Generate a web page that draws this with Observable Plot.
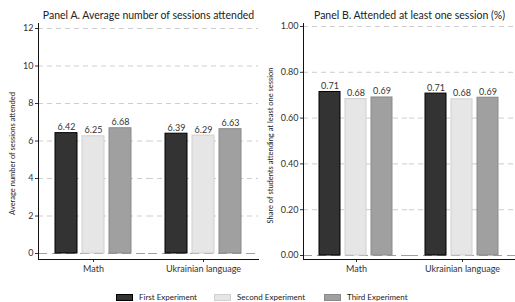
<!DOCTYPE html>
<html><head><meta charset="utf-8">
<script src="https://cdn.jsdelivr.net/npm/d3@7"></script>
<script src="https://cdn.jsdelivr.net/npm/@observablehq/plot@0.6"></script>
<style>
body{margin:0;background:#fff;font-family:Lato,"Noto Sans",sans-serif;}
#wrap{position:relative;width:515px;height:302px;overflow:hidden;}
#a{position:absolute;left:0;top:0;}
#b{position:absolute;left:258px;top:0;}
#legend{position:absolute;top:0;left:0;width:515px;height:302px;font-size:8px;color:#222;}
.item{position:absolute;top:292px;display:flex;align-items:center;}
.sw{width:15px;height:5px;margin-right:6px;border:1px solid;}
</style></head>
<body><div id="wrap"><div id="a"></div><div id="b"></div><div id="legend"></div></div>
<script>
const subjects = ["Math", "Ukrainian language"];
const experiments = ["First Experiment", "Second Experiment", "Third Experiment"];
const sessionsMath = [6.42, 6.25, 6.68];
const sessionsUkr = [6.39, 6.29, 6.63];
const shareMath = [0.714, 0.683, 0.690];
const shareUkr = [0.707, 0.682, 0.689];
const sessionTicks = [0, 2, 4, 6, 8, 10, 12];
const shareTicks = [0, 0.2, 0.4, 0.6, 0.8, 1.0];

const fills = ["#333333", "#e6e6e6", "#a0a0a0"];
const strokes = ["#000000", "#d0d0d0", "#8a8a8a"];
const legendLeft = [116, 214, 324];

function table(a, b) {
  const rows = [];
  [a, b].forEach((vals, si) => vals.forEach((v, ei) => rows.push({subject: subjects[si], exp: experiments[ei], value: v})));
  return rows;
}

function panel({data, ticks, domain, tickFmt, valFmt, title, ylabel, width, marginLeft, labelOffset, labelDy}) {
  const H = 282;
  return Plot.plot({
    width, height: H,
    marginLeft, marginRight: 0, marginTop: 23, marginBottom: 23,
    style: {fontFamily: "Lato, 'Noto Sans', sans-serif", color: "#333", background: "transparent", overflow: "visible"},
    fx: {domain: subjects, paddingInner: 0, paddingOuter: 0, axis: null, label: null},
    x: {domain: experiments, paddingInner: 0.18, paddingOuter: 0.555, axis: null},
    y: {domain, axis: null},
    color: {domain: experiments, range: fills},
    marks: [
      Plot.ruleY(ticks.filter(t => t !== 0), {stroke: "#cdcdcd", strokeWidth: 1, strokeDasharray: "5,4"}),
      Plot.ruleY([0], {stroke: "#a0a0a0", strokeWidth: 1.2, strokeDasharray: "9,5"}),
      Plot.barY(data, {fx: "subject", x: "exp", y: "value", fill: "exp"}),
      ...experiments.map((e, i) => Plot.barY(data.filter(d => d.exp === e), {fx: "subject", x: "exp", y: "value", fill: "none", stroke: strokes[i], strokeWidth: 1})),
      Plot.text(data, {fx: "subject", x: "exp", y: "value", text: d => valFmt(d.value), lineAnchor: "bottom", dy: -3, fontSize: 9, fill: "#333"}),
      Plot.axisY({ticks, tickFormat: tickFmt, tickSize: 3, tickPadding: 2, fontSize: 9, label: null, color: "#333"}),
      Plot.axisFx({anchor: "bottom", tickSize: 3, tickPadding: 3, fontSize: 9, label: null, color: "#333"}),
      Plot.frame({anchor: "left", facet: "super", stroke: "#111"}),
      Plot.frame({anchor: "bottom", facet: "super", stroke: "#111"}),
      Plot.text([title], {text: d => d, frameAnchor: "top", lineAnchor: "bottom", dy: -5, fontSize: 10.5, fill: "#222", facet: "super"}),
      Plot.text([ylabel], {text: d => d, frameAnchor: "left", textAnchor: "middle", dx: -labelOffset, dy: labelDy, rotate: -90, fontSize: 7.5, fill: "#222", facet: "super"})
    ]
  });
}

document.getElementById("a").append(panel({
  data: table(sessionsMath, sessionsUkr), ticks: sessionTicks, domain: [-0.32, 12.267],
  tickFmt: d3.format("d"), valFmt: d3.format(".2f"),
  title: "Panel A. Average number of sessions attended",
  ylabel: "Average number of sessions attended",
  width: 258, marginLeft: 38, labelOffset: 26, labelDy: 12
}));
document.getElementById("b").append(panel({
  data: table(shareMath, shareUkr), ticks: shareTicks, domain: [-0.0174, 1.013],
  tickFmt: d3.format(".2f"), valFmt: d3.format(".2f"),
  title: "Panel B. Attended at least one session (%)",
  ylabel: "Share of students attending at least one session",
  width: 257, marginLeft: 45, labelOffset: 33, labelDy: 4
}));

const lg = d3.select("#legend");
experiments.forEach((e, i) => {
  const it = lg.append("div").attr("class", "item").style("left", legendLeft[i] + "px");
  it.append("div").attr("class", "sw").style("background", fills[i]).style("border-color", strokes[i]);
  it.append("span").text(e);
});
</script></body></html>
